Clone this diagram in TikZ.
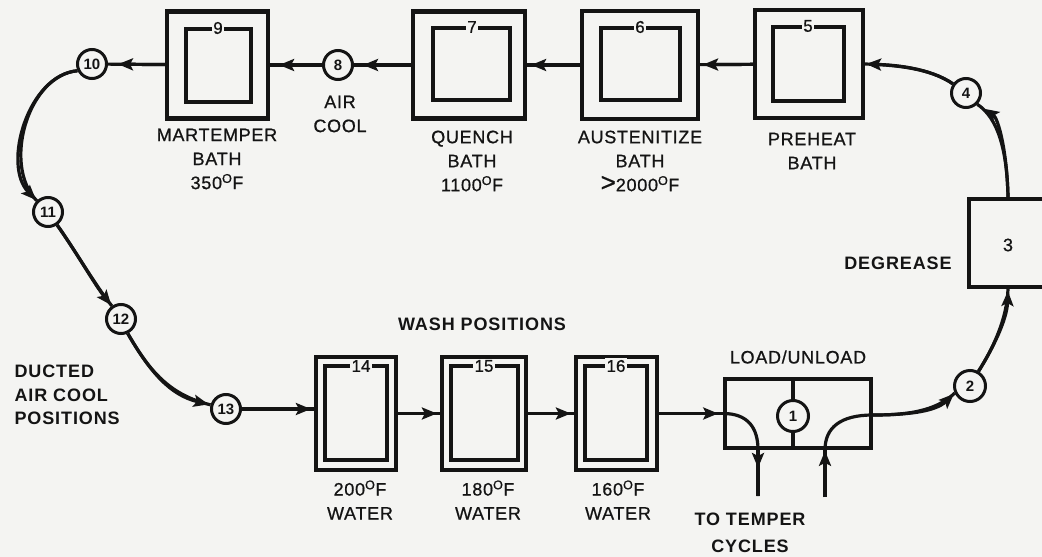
\documentclass[tikz,border=0pt]{standalone}
\usepackage{fontspec}
\setmainfont{Liberation Sans}
\usetikzlibrary{arrows.meta}
\definecolor{bgc}{RGB}{244,244,242}
\definecolor{ink}{RGB}{20,20,20}
\newcommand{\degO}{\textsuperscript{O}}
\begin{document}
\begin{tikzpicture}[x=1pt,y=-1pt,
  tank/.style={draw=ink, line width=4.2pt, inner sep=0pt},
  innerbox/.style={draw=ink, line width=4.2pt},
  num/.style={fill=bgc, inner sep=1.5pt, font=\fontsize{17}{17}\selectfont\addfontfeatures{FakeBold=0.8}, text=ink},
  stn/.style={draw=ink, circle, line width=3pt, minimum size=29pt, inner sep=0pt, fill=bgc,
              font=\fontsize{15}{15}\selectfont\bfseries, text=ink},
  lab/.style={align=center, text=ink, font=\fontsize{18}{24}\selectfont\addfontfeatures{LetterSpace=4,FakeBold=0.8}},
  blab/.style={align=center, text=ink, font=\fontsize{18}{23.5}\selectfont\bfseries\addfontfeatures{LetterSpace=5}},
  conn/.style={draw=ink, line width=3.2pt},
  tip/.style={postaction={draw=ink, line width=3.2pt, -{Stealth[length=15pt,width=12pt,inset=3pt]}, shorten >=#1}},
  tip/.default=1pt]
\path[use as bounding box, fill=bgc] (0,0) rectangle (1042,557);
\clip (0,0) rectangle (1042,557);

% top row tanks
\node[tank, minimum width=101pt, minimum height=107pt] (b9) at (217.5,65) {};
\draw[innerbox] (186,29) rectangle (251,102);
\node[num] at (218,28) {9};
\node[tank, minimum width=112pt, minimum height=107pt] (b7) at (469,65) {};
\draw[innerbox] (433,28) rectangle (510,100);
\node[num] at (472,27) {7};
\node[tank, minimum width=116pt, minimum height=108pt] (b6) at (640,65) {};
\draw[innerbox] (601,28) rectangle (680,100);
\node[num] at (640,27) {6};
\node[tank, minimum width=108pt, minimum height=108pt] (b5) at (809,64) {};
\draw[innerbox] (773,27) rectangle (844,101);
\node[num] at (808,26) {5};

% wash tanks
\node[tank, minimum width=80pt, minimum height=113pt] (b14) at (356,413.5) {};
\draw[innerbox] (325,366) rectangle (387,460);
\node[num] at (361,366) {14};
\node[tank, minimum width=84pt, minimum height=113pt] (b15) at (484,413.5) {};
\draw[innerbox] (451,366) rectangle (518,460);
\node[num] at (484,366) {15};
\node[tank, minimum width=81pt, minimum height=113pt] (b16) at (616.5,413.5) {};
\draw[innerbox] (585,366) rectangle (647,460);
\node[num] at (616,366) {16};

% degrease box
\node[tank, minimum width=90pt, minimum height=88pt] (b3) at (1014,243) {};
\node[text=ink, font=\fontsize{18}{18}\selectfont\addfontfeatures{FakeBold=0.8}] (l3) at (1008,245) {3};

% load / unload
\node[tank, line width=3.6pt, minimum width=146pt, minimum height=69pt] (ld) at (798,413.5) {};
\node[stn, minimum size=31pt] (n1) at (793,416) {1};
\draw[conn] (ld.north -| n1) -- (n1);
\draw[conn] (n1) -- (ld.south -| n1);

% position circles
\node[stn] (n8) at (338,65) {8};
\node[stn] (n10) at (92,64) {10};
\node[stn] (n11) at (48,212) {11};
\node[stn] (n12) at (121,319) {12};
\node[stn] (n13) at (226,409) {13};
\node[stn, minimum size=31pt] (n2) at (970,386) {2};
\node[stn] (n4) at (966,93) {4};

\coordinate (out) at (758,496);
\coordinate (in) at (825,497);

% connectors, top row
\draw[conn, tip=1pt] (n4.145) .. controls (930,68) and (895,65) .. (b5.east);
\draw[conn, tip=3pt] (b5) -- (b6);
\draw[conn, tip=4pt] (b6) -- (b7);
\draw[conn, tip=9pt] (b7) -- (n8);
\draw[conn, tip=9pt] (n8) -- (b9);
\draw[conn, tip=10pt] (b9) -- (n10);
% left side
\draw[conn, tip=1pt] (n10.205) .. controls (28,75) and (2,165) .. (n11.135);
\draw[conn, tip=1pt] (n11.-55) .. controls (75,250) and (95,285) .. (n12.125);
\draw[conn, tip=2pt] (n12.-65) .. controls (150,372) and (170,395) .. (n13.165);
% bottom row
\draw[conn, tip=3pt] (n13.east) -- (n13.east -| b14.west);
\draw[conn, tip=3pt] (b14) -- (b15);
\draw[conn, tip=3pt] (b15) -- (b16);
\draw[conn, tip=5pt] (b16) -- (ld.west);
\draw[conn] (ld.west) .. controls (748,413.5) and (758,428) .. (ld.south -| out) -- (out);
\draw[conn, tip=28pt] (ld.south -| out) -- (out);
\draw[conn, tip=1pt] (in) -- (ld.south -| in);
\draw[conn] (ld.south -| in) .. controls (825,428) and (840,415) .. (ld.east |- 0,415);
\draw[conn, tip=1pt] (ld.east |- 0,415) .. controls (905,415) and (935,412) .. (n2.205);
% right side
\draw[conn, tip=2pt] (n2.60) .. controls (992,350) and (1007,320) .. (b3.south -| l3);
\draw[conn, tip=8pt] (b3.north -| l3) .. controls (1007,150) and (998,118) .. (n4.-45);

% labels
\node[lab] at (217,159) {MARTEMPER\\BATH\\350\degO F};
\node[lab] at (340,114) {AIR\\COOL};
\node[lab] at (472,161) {QUENCH\\BATH\\1100\degO F};
\node[lab] at (640,161) {AUSTENITIZE\\BATH\\{\fontsize{26}{24}\selectfont >}2000\degO F};
\node[lab] at (812,151) {PREHEAT\\BATH};
\node[blab] at (898,263) {DEGREASE};
\node[blab] at (482,324) {WASH POSITIONS};
\node[blab, align=left, anchor=west] at (11,395) {DUCTED\\AIR COOL\\POSITIONS};
\node[lab] at (360,500) {200\degO F\\WATER};
\node[lab] at (488,500) {180\degO F\\WATER};
\node[lab] at (618,500) {160\degO F\\WATER};
\node[lab] at (798,357) {LOAD/UNLOAD};
\node[blab, font=\fontsize{18}{27}\selectfont\bfseries\addfontfeatures{LetterSpace=5}] at (750,533) {TO TEMPER\\CYCLES};
\end{tikzpicture}
\end{document}
